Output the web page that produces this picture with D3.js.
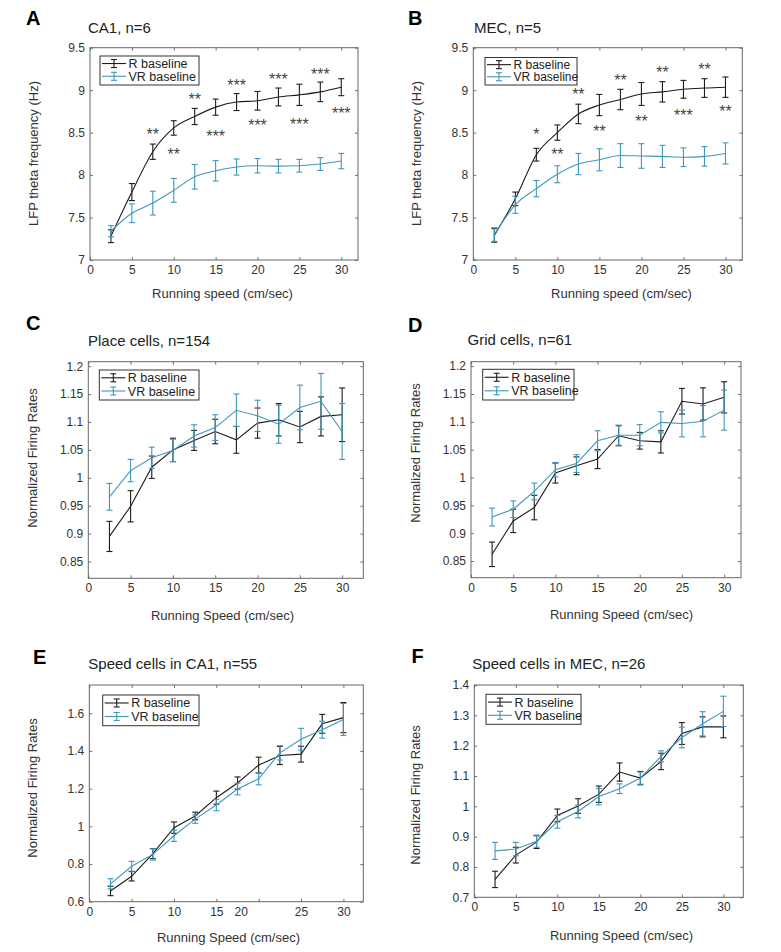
<!DOCTYPE html>
<html><head><meta charset="utf-8">
<script src="https://cdn.jsdelivr.net/npm/d3@7"></script>
<style>body{margin:0;background:#fff} svg{display:block;font-family:"Liberation Sans",Arial,sans-serif}</style>
</head><body><svg id="fig" width="781" height="952"></svg>
<script>
// ---------- data ----------
const speeds = [2.5,5,7.5,10,12.5,15,17.5,20,22.5,25,27.5,30];
const xTicks = [0,5,10,15,20,25,30];

// A: LFP theta, CA1
const ca1ThetaR     = [7.28,7.80,8.275,8.555,8.69,8.80,8.86,8.875,8.92,8.945,8.98,9.035];
const ca1ThetaRErr  = [0.075,0.10,0.09,0.085,0.095,0.095,0.10,0.11,0.105,0.125,0.115,0.10];
const ca1ThetaVR    = [7.34,7.55,7.67,7.82,7.98,8.05,8.095,8.11,8.105,8.11,8.13,8.165];
const ca1ThetaVRErr = [0.065,0.11,0.14,0.14,0.145,0.12,0.095,0.085,0.08,0.075,0.075,0.09];
const ca1StarX = [7.5,10,12.5,15,17.5,20,22.5,25,27.5,30];
const ca1StarY = [8.53,8.295,8.935,8.50,9.10,8.63,9.178,8.648,9.237,8.778];
const ca1StarT = ["**","**","**","***","***","***","***","***","***","***"];

// B: LFP theta, MEC
const mecThetaR     = [7.29,7.72,8.24,8.50,8.72,8.825,8.89,8.955,8.98,9.01,9.025,9.035];
const mecThetaRErr  = [0.08,0.08,0.075,0.09,0.115,0.125,0.12,0.135,0.12,0.105,0.11,0.12];
const mecThetaVR    = [7.30,7.65,7.84,8.01,8.13,8.18,8.23,8.225,8.22,8.21,8.22,8.255];
const mecThetaVRErr = [0.08,0.10,0.095,0.10,0.125,0.13,0.14,0.145,0.13,0.11,0.115,0.125];
const mecStarX = [7.5,10,12.5,15,17.5,20,22.5,25,27.5,30];
const mecStarY = [8.523,8.287,9.0,8.56,9.16,8.68,9.256,8.746,9.29,8.80];
const mecStarT = ["*","**","**","**","**","**","**","***","**","**"];

// C: place cells
const placeR     = [0.895,0.949,1.019,1.050,1.067,1.083,1.068,1.098,1.104,1.091,1.110,1.113];
const placeRErr  = [0.027,0.028,0.020,0.021,0.018,0.022,0.024,0.027,0.029,0.028,0.035,0.048];
const placeVR    = [0.966,1.013,1.036,1.049,1.075,1.090,1.121,1.111,1.096,1.126,1.137,1.083];
const placeVRErr = [0.024,0.020,0.019,0.020,0.020,0.023,0.029,0.028,0.034,0.040,0.050,0.050];

// D: grid cells
const gridR     = [0.862,0.922,0.946,1.008,1.021,1.033,1.075,1.066,1.064,1.137,1.132,1.144];
const gridRErr  = [0.022,0.021,0.022,0.018,0.016,0.017,0.018,0.015,0.020,0.023,0.029,0.028];
const gridVR    = [0.929,0.943,0.975,1.014,1.025,1.066,1.076,1.076,1.099,1.097,1.101,1.121];
const gridVRErr = [0.016,0.015,0.015,0.013,0.016,0.018,0.018,0.019,0.019,0.024,0.028,0.036];

// E: speed cells CA1
const speedCA1R     = [0.657,0.735,0.855,0.993,1.055,1.152,1.230,1.325,1.376,1.383,1.544,1.577];
const speedCA1RErr  = [0.025,0.025,0.027,0.030,0.020,0.035,0.032,0.042,0.048,0.042,0.050,0.080];
const speedCA1VR    = [0.695,0.788,0.851,0.950,1.038,1.113,1.198,1.252,1.390,1.462,1.513,1.567];
const speedCA1VRErr = [0.027,0.026,0.030,0.030,0.022,0.030,0.031,0.032,0.038,0.058,0.045,0.085];

// F: speed cells MEC
const speedMECR     = [0.759,0.839,0.882,0.970,1.001,1.040,1.113,1.093,1.148,1.240,1.262,1.262];
const speedMECRErr  = [0.027,0.026,0.021,0.021,0.024,0.027,0.030,0.022,0.027,0.036,0.033,0.036];
const speedMECVR    = [0.853,0.859,0.885,0.949,0.983,1.032,1.058,1.093,1.165,1.227,1.272,1.313];
const speedMECVRErr = [0.028,0.022,0.020,0.021,0.021,0.027,0.016,0.020,0.018,0.034,0.040,0.050];

const thetaTicks = [7,7.5,8,8.5,9,9.5];
const rateTicksCD = [0.85,0.9,0.95,1,1.05,1.1,1.15,1.2];
const rateTicksE = [0.6,0.8,1,1.2,1.4,1.6];
const rateTicksF = [0.7,0.8,0.9,1,1.1,1.2,1.3,1.4];

const seriesNames = ["R baseline","VR baseline"];
const colR = "#1c1c1c", colVR = "#3f97bb";

// ---------- layout ----------
const panels = [
  {letter:"A", lx:26, ly:25, title:"CA1, n=6", tx:88, ty:33,
   box:[90,47.7,358,260], xDomain:[0,32], yDomain:[7,9.5], yTicks:thetaTicks,
   r:ca1ThetaR, rErr:ca1ThetaRErr, vr:ca1ThetaVR, vrErr:ca1ThetaVRErr, smooth:true,
   stars:{x:ca1StarX,y:ca1StarY,t:ca1StarT},
   ylab:"LFP theta frequency (Hz)", ylx:33, yly:153.5, xlab:"Running speed (cm/sec)", xlx:222.5, xly:297.5,
   leg:[100,56,99,29,12.5]},
  {letter:"B", lx:408, ly:25, title:"MEC, n=5", tx:474, ty:33,
   box:[473.3,47.7,742.3,260], xDomain:[0,32], yDomain:[7,9.5], yTicks:thetaTicks,
   r:mecThetaR, rErr:mecThetaRErr, vr:mecThetaVR, vrErr:mecThetaVRErr, smooth:true,
   stars:{x:mecStarX,y:mecStarY,t:mecStarT},
   ylab:"LFP theta frequency (Hz)", ylx:416, yly:153.5, xlab:"Running speed (cm/sec)", xlx:621.5, xly:297.5,
   leg:[485,57.5,92,27.5,12]},
  {letter:"C", lx:26, ly:330, title:"Place cells, n=154", tx:88, ty:346,
   box:[88.3,361.7,363.3,578.3], xDomain:[0,32.5], yDomain:[0.82,1.208], yTicks:rateTicksCD,
   r:placeR, rErr:placeRErr, vr:placeVR, vrErr:placeVRErr, smooth:false,
   ylab:"Normalized Firing Rates", ylx:32, yly:458, xlab:"Running Speed (cm/sec)", xlx:222.5, xly:620,
   leg:[99.3,370,99.7,30,12.5]},
  {letter:"D", lx:408, ly:331.5, title:"Grid cells, n=61", tx:467.5, ty:344.5,
   box:[471,361.7,741,577.7], xDomain:[0,32], yDomain:[0.82,1.208], yTicks:rateTicksCD,
   r:gridR, rErr:gridRErr, vr:gridVR, vrErr:gridVRErr, smooth:false,
   ylab:"Normalized Firing Rates", ylx:415, yly:453, xlab:"Running Speed (cm/sec)", xlx:621.5, xly:618.5,
   leg:[482.7,369.3,91.3,30.7,12.5]},
  {letter:"E", lx:33, ly:664, title:"Speed cells in CA1, n=55", tx:88.3, ty:668.5,
   box:[89.3,685,363.3,901.7], xDomain:[0,32.35], yDomain:[0.6,1.75], yTicks:rateTicksE,
   r:speedCA1R, rErr:speedCA1RErr, vr:speedCA1VR, vrErr:speedCA1VRErr, smooth:false, xShift:{20:-18},
   ylab:"Normalized Firing Rates", ylx:32, yly:788, xlab:"Running Speed (cm/sec)", xlx:228.5, xly:941.5,
   leg:[102.7,695,96.3,30.7,12.5]},
  {letter:"F", lx:411.5, ly:663, title:"Speed cells in MEC, n=26", tx:472.3, ty:669,
   box:[474.3,685,743.3,897.3], xDomain:[0,32.4], yDomain:[0.7,1.4], yTicks:rateTicksF,
   r:speedMECR, rErr:speedMECRErr, vr:speedMECVR, vrErr:speedMECVRErr, smooth:false,
   ylab:"Normalized Firing Rates", ylx:415, yly:795, xlab:"Running Speed (cm/sec)", xlx:621.5, xly:940,
   leg:[486,694.3,95,30,12.5]}
];

const svg = d3.select("#fig");
const fmt = d3.format("~g");
const axisCol = "#666", textCol = "#333";

function styleAxis(sel){
  sel.select(".domain").remove();
  sel.selectAll(".tick line").attr("stroke", axisCol).attr("stroke-width", 0.9);
  sel.selectAll(".tick text").attr("fill", textCol).style("font-size","12px")
     .style("font-family",'"Liberation Sans",Arial,sans-serif');
}

function drawErr(g, x, y, means, errs, col){
  const eg = g.append("g").attr("stroke", col).attr("stroke-width", 1.1).attr("fill","none");
  speeds.forEach((s,i)=>{
    const cx = x(s), y1 = y(means[i]-errs[i]), y2 = y(means[i]+errs[i]);
    eg.append("line").attr("x1",cx).attr("x2",cx).attr("y1",y1).attr("y2",y2);
    eg.append("line").attr("x1",cx-3).attr("x2",cx+3).attr("y1",y1).attr("y2",y1);
    eg.append("line").attr("x1",cx-3).attr("x2",cx+3).attr("y1",y2).attr("y2",y2);
  });
}

panels.forEach(p=>{
  const [L,T,R,B] = p.box;
  const x = d3.scaleLinear().domain(p.xDomain).range([L,R]);
  const y = d3.scaleLinear().domain(p.yDomain).range([B,T]);
  const g = svg.append("g");

  // axes (MATLAB style: inward ticks on all four sides)
  const ax = g.append("g").attr("transform",`translate(0,${B})`)
    .call(d3.axisBottom(x).tickValues(xTicks).tickSizeInner(-3).tickSizeOuter(0).tickPadding(5.5).tickFormat(fmt));
  styleAxis(ax);
  if (p.xShift) ax.selectAll(".tick text").filter(d=>p.xShift[d]!==undefined).attr("x", d=>p.xShift[d]);
  const axT = g.append("g").attr("transform",`translate(0,${T})`)
    .call(d3.axisTop(x).tickValues(xTicks).tickSizeInner(-3).tickSizeOuter(0).tickFormat(""));
  styleAxis(axT);
  const ay = g.append("g").attr("transform",`translate(${L},0)`)
    .call(d3.axisLeft(y).tickValues(p.yTicks).tickSizeInner(-3).tickSizeOuter(0).tickPadding(5).tickFormat(fmt));
  styleAxis(ay);
  const ayR = g.append("g").attr("transform",`translate(${R},0)`)
    .call(d3.axisRight(y).tickValues(p.yTicks).tickSizeInner(-3).tickSizeOuter(0).tickFormat(""));
  styleAxis(ayR);
  g.append("rect").attr("x",L).attr("y",T).attr("width",R-L).attr("height",B-T)
    .attr("fill","none").attr("stroke",axisCol).attr("stroke-width",1);

  // lines
  const line = d3.line().x((d,i)=>x(speeds[i])).y(d=>y(d))
    .curve(p.smooth ? d3.curveMonotoneX : d3.curveLinear);
  g.append("path").attr("d", line(p.r)).attr("fill","none").attr("stroke",colR).attr("stroke-width",1.1);
  drawErr(g, x, y, p.r, p.rErr, colR);
  g.append("path").attr("d", line(p.vr)).attr("fill","none").attr("stroke",colVR).attr("stroke-width",1.1);
  drawErr(g, x, y, p.vr, p.vrErr, colVR);

  // significance stars
  if (p.stars){
    p.stars.x.forEach((sx,i)=>{
      g.append("text").attr("x", x(sx)).attr("y", y(p.stars.y[i])).attr("dy","0.6em")
        .attr("text-anchor","middle").attr("fill","#444").style("font-size","16px")
        .text(p.stars.t[i]);
    });
  }

  // legend
  const [lgx,lgy,lgw,lgh,lfs] = p.leg;
  const lg = g.append("g");
  lg.append("rect").attr("x",lgx).attr("y",lgy).attr("width",lgw).attr("height",lgh)
    .attr("fill","#fff").attr("stroke","#333").attr("stroke-width",1);
  [[colR,seriesNames[0]],[colVR,seriesNames[1]]].forEach(([c,name],k)=>{
    const cy = lgy + lgh*(k===0 ? 0.26 : 0.70);
    const x1 = lgx+2, x2 = lgx+26, xm = (x1+x2)/2;
    lg.append("line").attr("x1",x1).attr("x2",x2).attr("y1",cy).attr("y2",cy).attr("stroke",c).attr("stroke-width",1.1);
    lg.append("line").attr("x1",xm).attr("x2",xm).attr("y1",cy-4).attr("y2",cy+4).attr("stroke",c).attr("stroke-width",1.1);
    lg.append("line").attr("x1",xm-3).attr("x2",xm+3).attr("y1",cy-4).attr("y2",cy-4).attr("stroke",c).attr("stroke-width",1.1);
    lg.append("line").attr("x1",xm-3).attr("x2",xm+3).attr("y1",cy+4).attr("y2",cy+4).attr("stroke",c).attr("stroke-width",1.1);
    lg.append("text").attr("x",lgx+28.5).attr("y",cy).attr("dy","0.36em").attr("fill","#222")
      .style("font-size",lfs+"px").text(name);
  });

  // texts
  g.append("text").attr("x",p.lx).attr("y",p.ly).style("font-size","20px").style("font-weight","bold").attr("fill","#000").text(p.letter);
  g.append("text").attr("x",p.tx).attr("y",p.ty).style("font-size","15px").attr("fill","#222").text(p.title);
  g.append("text").attr("transform",`translate(${p.ylx},${p.yly}) rotate(-90)`).attr("text-anchor","middle")
    .attr("dy","0.35em").style("font-size","13px").attr("fill","#333").text(p.ylab);
  g.append("text").attr("x",p.xlx).attr("y",p.xly).attr("text-anchor","middle")
    .style("font-size","13px").attr("fill","#333").text(p.xlab);
});
</script>
</body></html>
